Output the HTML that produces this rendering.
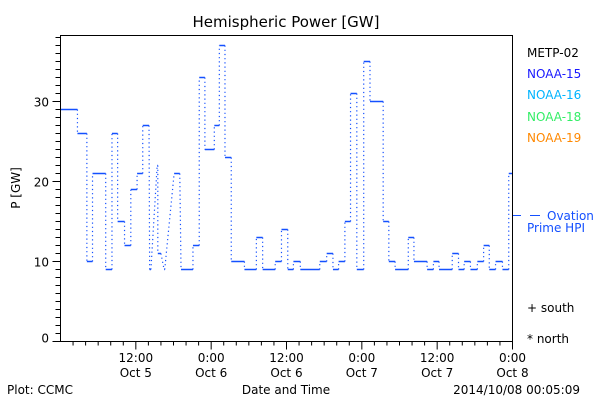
<!DOCTYPE html>
<html><head><meta charset="utf-8"><style>
body{margin:0;background:#fff;}
svg{display:block;font-family:"DejaVu Sans","Liberation Sans",sans-serif;}
</style></head><body>
<svg id="chart" width="600" height="400" viewBox="0 0 600 400">
<rect width="600" height="400" fill="#fff"/>
<text x="286" y="27" font-size="15" text-anchor="middle">Hemispheric Power [GW]</text>
<g id="axes"></g>
<g id="series"></g>
<rect x="60.5" y="35.5" width="452" height="306" fill="none" stroke="#000" stroke-width="1"/>
<text transform="translate(20,188) rotate(-90)" font-size="12" text-anchor="middle">P [GW]</text>
<text x="286" y="394" font-size="12" text-anchor="middle">Date and Time</text>
<text x="7" y="394" font-size="12">Plot: CCMC</text>
<text x="580" y="394" font-size="12" text-anchor="end">2014/10/08 00:05:09</text>
<g font-size="12">
<text x="527" y="57" fill="#000">METP-02</text>
<text x="527" y="78" fill="#1a1aff">NOAA-15</text>
<text x="527" y="99" fill="#00b4ff">NOAA-16</text>
<text x="527" y="121" fill="#33ee66">NOAA-18</text>
<text x="527" y="142" fill="#ff8800">NOAA-19</text>
<line x1="513" y1="215.5" x2="521" y2="215.5" stroke="#1450ff"/>
<line x1="530" y1="215.5" x2="540" y2="215.5" stroke="#1450ff"/>
<text x="547" y="220" fill="#1450ff">Ovation</text>
<text x="527" y="232" fill="#1450ff">Prime HPI</text>
<text x="527" y="312" fill="#000">+ south</text>
<text x="527" y="343" fill="#000">* north</text>
</g>
</svg>
<script>
const segStart=[0,2.7,4.2,5.1,7.2,8.2,9.1,10.2,11.2,12.2,13.1,14.2,15.4,15.5,16.5,18.1,19.2,21.1,22.1,23,24.5,25.3,26.2,27.2,29.3,31.2,32.2,34.2,35.2,36.2,37.1,38.2,41.3,42.4,43.4,44.3,45.3,46.2,47.2,48.3,49.3,51.4,52.3,53.3,55.4,56.3,58.4,59.4,60.3,62.4,63.4,64.3,65.3,66.4,67.4,68.3,69.3,70.4,71.4];
const segEnd=[2.7,4.2,5.1,7.2,8.2,9.1,10.2,11.2,12.2,13.1,14.1,14.4,15.5,16,16.6,19,21.1,22.1,23,24.5,25.3,26.2,27.2,29.3,31.2,32.2,34.2,35.2,36.2,37.1,38.2,41.3,42.4,43.4,44.3,45.3,46.2,47.2,48.3,49.3,51.4,52.3,53.3,55.4,56.3,58.4,59.4,60.3,62.4,63.4,64.3,65.3,66.4,67.4,68.3,69.3,70.4,71.4,72];
const power=[29,26,10,21,9,26,15,12,19,21,27,9,22,11,9,21,9,12,33,24,27,37,23,10,9,13,9,10,14,9,10,9,10,11,9,10,15,31,9,35,30,15,10,9,13,10,9,10,9,11,9,10,9,10,12,9,10,9,21];
const xTickHours=[12,24,36,48,60,72];
const xTickTime=["12:00","0:00","12:00","0:00","12:00","0:00"];
const xTickDate=["Oct 5","Oct 6","Oct 6","Oct 7","Oct 7","Oct 8"];
const yTickValues=[0,10,20,30];

const X0=60.5,X1=512.5,Y0=341.5,Ymax=38.25,Hmax=72;
const xs=h=>X0+(h/Hmax)*(X1-X0);
const ys=v=>Y0-(v/Ymax)*(Y0-35.5);
const NS="http://www.w3.org/2000/svg";
function mk(tag,attrs,parent){const e=document.createElementNS(NS,tag);for(const k in attrs)e.setAttribute(k,attrs[k]);parent.appendChild(e);return e;}
const ax=document.getElementById('axes');
for(let v=0;v<=38;v++){
  const major=v%10===0;
  const t=mk('line',{x1:X0-(major?8:5),x2:X0,y1:ys(v),y2:ys(v),stroke:'#000'},ax);
  
  
}
yTickValues.forEach(v=>{
  const t=mk('text',{x:49,y:(v===0?ys(v)+1:ys(v)+5),'font-size':12,'text-anchor':'end'},ax);
  t.textContent=v;
  
  
});
for(let h=2;h<=72;h+=2){
  const major=h%12===0;
  const t=mk('line',{x1:xs(h),x2:xs(h),y1:Y0,y2:Y0+(major?8:4),stroke:'#000'},ax);
  
  
}
xTickHours.forEach((h,i)=>{
  const a=mk('text',{x:xs(h),y:362,'font-size':12,'text-anchor':'middle'},ax);
  a.textContent=xTickTime[i];
  
  
  const b=mk('text',{x:xs(h),y:377,'font-size':12,'text-anchor':'middle'},ax);
  b.textContent=xTickDate[i];
  
  
});
const sg=document.getElementById('series');
const col='#1450ff';
for(let i=0;i<power.length;i++){
  const s=mk('line',{x1:xs(segStart[i]),x2:xs(segEnd[i]),y1:ys(power[i]),y2:ys(power[i]),stroke:col,'stroke-width':1.5},sg);
  
  
  if(i>0){
    const c=mk('line',{x1:xs(segEnd[i-1]),y1:ys(power[i-1]),x2:xs(segStart[i]),y2:ys(power[i]),stroke:col,'stroke-width':1.2,'stroke-dasharray':'1.2 3'},sg);
    
    
  }
}
</script>
</body></html>
